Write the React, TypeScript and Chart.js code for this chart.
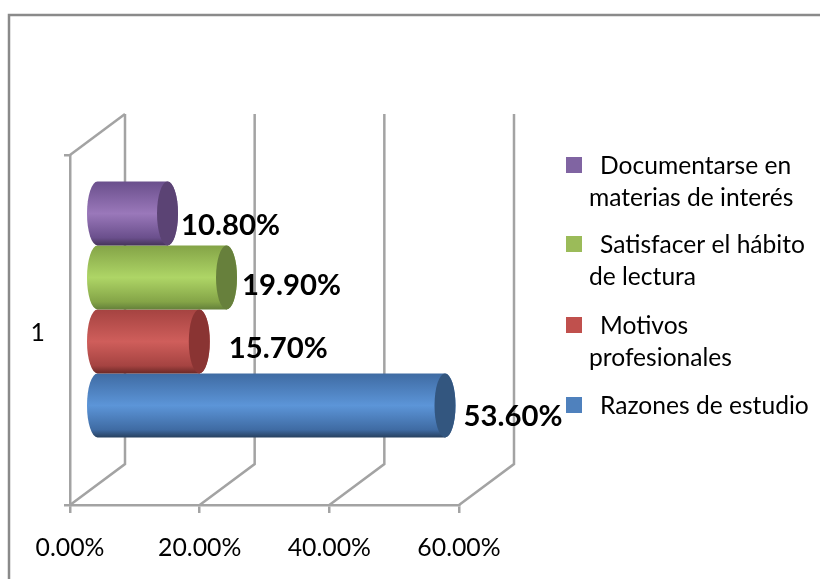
import React, { useEffect, useRef } from "react";
import { Chart, registerables } from "chart.js";

Chart.register(...registerables);

const categories = ["1"];
const seriesNames = [
  "Documentarse en materias de interés",
  "Satisfacer el hábito de lectura",
  "Motivos profesionales",
  "Razones de estudio",
];
const seriesValues = [10.8, 19.9, 15.7, 53.6];
const seriesColors = ["#8064a2", "#9bbb59", "#c0504d", "#4f81bd"];
const legendLines = [
  ["Documentarse en", "materias de interés"],
  ["Satisfacer el hábito", "de lectura"],
  ["Motivos", "profesionales"],
  ["Razones de estudio"],
];
const axisTicks = [0, 20, 40, 60];

const FONT = "Lato, Carlito, Calibri, sans-serif";
const GRID = "#a3a3a3";
const DEPTH_X = 55;
const DEPTH_Y = 41;
const BAR_SHIFT_X = 27.5;
const BAR_SHIFT_Y = 20.5;
const CAP_RX = 10.5;

const shades = [
  { top: "#6a4f8c", mid: "#9a78ba", bot: "#453358", cap: "#5b4374" },
  { top: "#84a447", mid: "#aed566", bot: "#64803a", cap: "#67803c" },
  { top: "#a54341", mid: "#cf5e5b", bot: "#6b2826", cap: "#8a3433" },
  { top: "#3f6ba3", mid: "#5c95d8", bot: "#27405f", cap: "#33567f" },
];
const labelNudges = [
  [3, 12],
  [5, 8],
  [19, 7],
  [8, 11],
];
const legendY = [166, 245, 326, 406];

const cylinderPlugin = {
  id: "cylinders",
  beforeDraw(chart: any) {
    const { ctx, width, height } = chart;
    ctx.save();
    ctx.fillStyle = "#ffffff";
    ctx.fillRect(0, 0, width, height);
    ctx.strokeStyle = "#8a8a8a";
    ctx.lineWidth = 2.5;
    ctx.strokeRect(9, 15, width + 20, height + 20);
    ctx.restore();
  },
  beforeDatasetsDraw(chart: any) {
    const { ctx, chartArea, scales } = chart;
    ctx.save();
    ctx.strokeStyle = GRID;
    ctx.lineWidth = 2.5;
    axisTicks.forEach((t) => {
      const x = scales.x.getPixelForValue(t);
      ctx.beginPath();
      ctx.moveTo(x, chartArea.bottom);
      ctx.lineTo(x + DEPTH_X, chartArea.bottom - DEPTH_Y);
      ctx.lineTo(x + DEPTH_X, chartArea.top - DEPTH_Y);
      ctx.stroke();
    });
    ctx.beginPath();
    ctx.moveTo(chartArea.left, chartArea.top);
    ctx.lineTo(chartArea.left + DEPTH_X, chartArea.top - DEPTH_Y);
    ctx.stroke();
    ctx.restore();
  },
  beforeDatasetDraw(chart: any, args: any) {
    const { ctx, scales } = chart;
    const i = args.index;
    const el = chart.getDatasetMeta(i).data[0];
    const s = shades[i];
    const x0 = scales.x.getPixelForValue(0) + BAR_SHIFT_X;
    const x1 = el.x + BAR_SHIFT_X;
    const cy = el.y - BAR_SHIFT_Y;
    const ry = el.height / 2;
    ctx.save();
    const g = ctx.createLinearGradient(0, cy - ry, 0, cy + ry);
    g.addColorStop(0, s.top);
    g.addColorStop(0.5, s.mid);
    g.addColorStop(0.88, s.top);
    g.addColorStop(1, s.bot);
    ctx.fillStyle = g;
    ctx.beginPath();
    ctx.ellipse(x0, cy, CAP_RX, ry, 0, Math.PI / 2, (Math.PI * 3) / 2);
    ctx.lineTo(x1, cy - ry);
    ctx.ellipse(x1, cy, CAP_RX, ry, 0, -Math.PI / 2, Math.PI / 2);
    ctx.closePath();
    ctx.fill();
    ctx.fillStyle = s.cap;
    ctx.beginPath();
    ctx.ellipse(x1, cy, CAP_RX, ry, 0, 0, Math.PI * 2);
    ctx.fill();
    ctx.restore();
    return false;
  },
  afterDatasetsDraw(chart: any) {
    const { ctx } = chart;
    ctx.save();
    ctx.textBaseline = "middle";
    ctx.textAlign = "left";
    ctx.fillStyle = "#000000";
    ctx.font = `bold 29.3px ${FONT}`;
    chart.data.datasets.forEach((ds: any, i: number) => {
      const el = chart.getDatasetMeta(i).data[0];
      const [nx, ny] = labelNudges[i];
      ctx.fillText(
        ds.data[0].toFixed(2) + "%",
        el.x + BAR_SHIFT_X + CAP_RX + nx,
        el.y - BAR_SHIFT_Y + ny
      );
    });
    ctx.font = `24.6px ${FONT}`;
    legendLines.forEach((lines, i) => {
      ctx.fillStyle = chart.data.datasets[i].backgroundColor;
      ctx.fillRect(566, legendY[i] - 9, 16, 16);
      ctx.fillStyle = "#000000";
      lines.forEach((line, j) => {
        ctx.fillText(line, j === 0 ? 600 : 589, legendY[i] + j * 32);
      });
    });
    ctx.restore();
  },
};

export default function App() {
  const ref = useRef<HTMLCanvasElement>(null);
  useEffect(() => {
    const chart = new Chart(ref.current as HTMLCanvasElement, {
      type: "bar",
      data: {
        labels: categories,
        datasets: seriesNames.map((label, i) => ({
          label,
          data: [seriesValues[i]],
          backgroundColor: seriesColors[i],
        })),
      },
      plugins: [cylinderPlugin],
      options: {
        indexAxis: "y",
        animation: false,
        responsive: false,
        layout: { padding: { left: 0, right: 361, top: 155, bottom: 0 } },
        plugins: { legend: { display: false }, tooltip: { enabled: false }, title: { display: false } },
        datasets: { bar: { categoryPercentage: 0.731, barPercentage: 1 } },
        scales: {
          x: {
            min: 0,
            max: 60,
            ticks: {
              stepSize: 20,
              color: "#000000",
              padding: 20,
              maxRotation: 0,
              font: { family: FONT, size: 24.8 },
              callback: (v: any) => Number(v).toFixed(2) + "%",
            },
            grid: { drawOnChartArea: false, color: GRID, lineWidth: 2.5, tickLength: 8 },
            border: { color: GRID, width: 2.5 },
            afterFit: (s: any) => {
              s.height = 74;
            },
          },
          y: {
            ticks: {
              color: "#000000",
              padding: 19,
              labelOffset: 3,
              font: { family: FONT, size: 24.8 },
            },
            grid: { drawOnChartArea: false, offset: true, color: GRID, lineWidth: 2.5, tickLength: 6 },
            border: { color: GRID, width: 2.5 },
            afterFit: (s: any) => {
              s.width = 70;
            },
          },
        },
      },
    } as any);
    return () => chart.destroy();
  }, []);
  return (
    <div style={{ position: "absolute", left: 0, top: 0, width: 820, height: 579, background: "#ffffff" }}>
      <canvas ref={ref} width={820} height={579} style={{ display: "block" }} />
    </div>
  );
}
